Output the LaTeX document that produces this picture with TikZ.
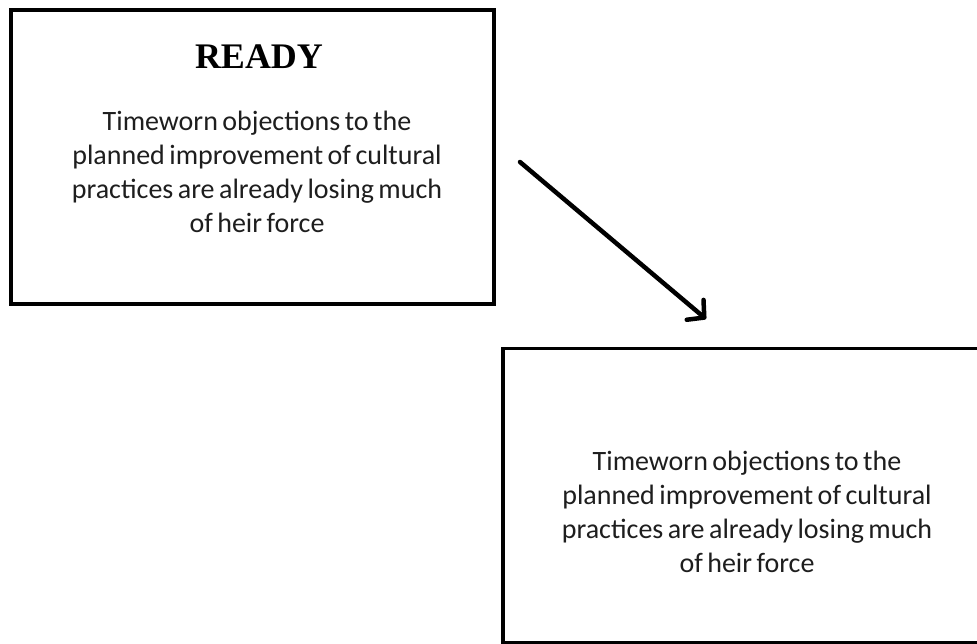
\documentclass[tikz,border=0pt]{standalone}
\usepackage{fontspec}
\setmainfont{Carlito}
\newfontfamily\titlefont{Liberation Serif}
\usepackage{tikz}
\usetikzlibrary{positioning,calc}
\usetikzlibrary{arrows.meta}
\definecolor{BodyGray}{RGB}{30,30,30}
\newcommand{\blurbfont}{\fontsize{28}{34}\selectfont\spaceskip=0.16em plus 0.05em\relax}
\tikzset{
  panel/.style={draw=black,line width=3.5pt,fill=white,inner sep=0pt,
    minimum width=483pt,minimum height=294pt},
  headline/.style={font=\titlefont\bfseries\fontsize{36}{40}\selectfont,inner sep=0pt},
  blurb/.style={font=\blurbfont,text=BodyGray,align=center,inner sep=0pt},
  flow/.style={draw=black,line width=4.5pt,line cap=round,
    -{Straight Barb[length=12pt,width=26pt,line width=4.5pt,round]}},
}

\begin{document}
\begin{tikzpicture}[x=1pt,y=-1pt]
\useasboundingbox (0,0) rectangle (977,644);
\clip (0,0) rectangle (977,644);
\node[panel] (ready) at (252.5,157) {};
\node[panel] (next) at (744.5,495.5) {};
\node[headline] (readytitle) at (259,57) {READY};
\node[blurb] (readytext) at (257,172) {Timeworn objections to the\\planned improvement of cultural\\practices are already losing much\\of heir force};
\node[blurb] (nexttext) at (747,512) {Timeworn objections to the\\planned improvement of cultural\\practices are already losing much\\of heir force};
\coordinate (flowstart) at (520,162);
\coordinate (flowend) at (706,319);
\draw[flow] (flowstart) -- (flowend);
\end{tikzpicture}
\end{document}
